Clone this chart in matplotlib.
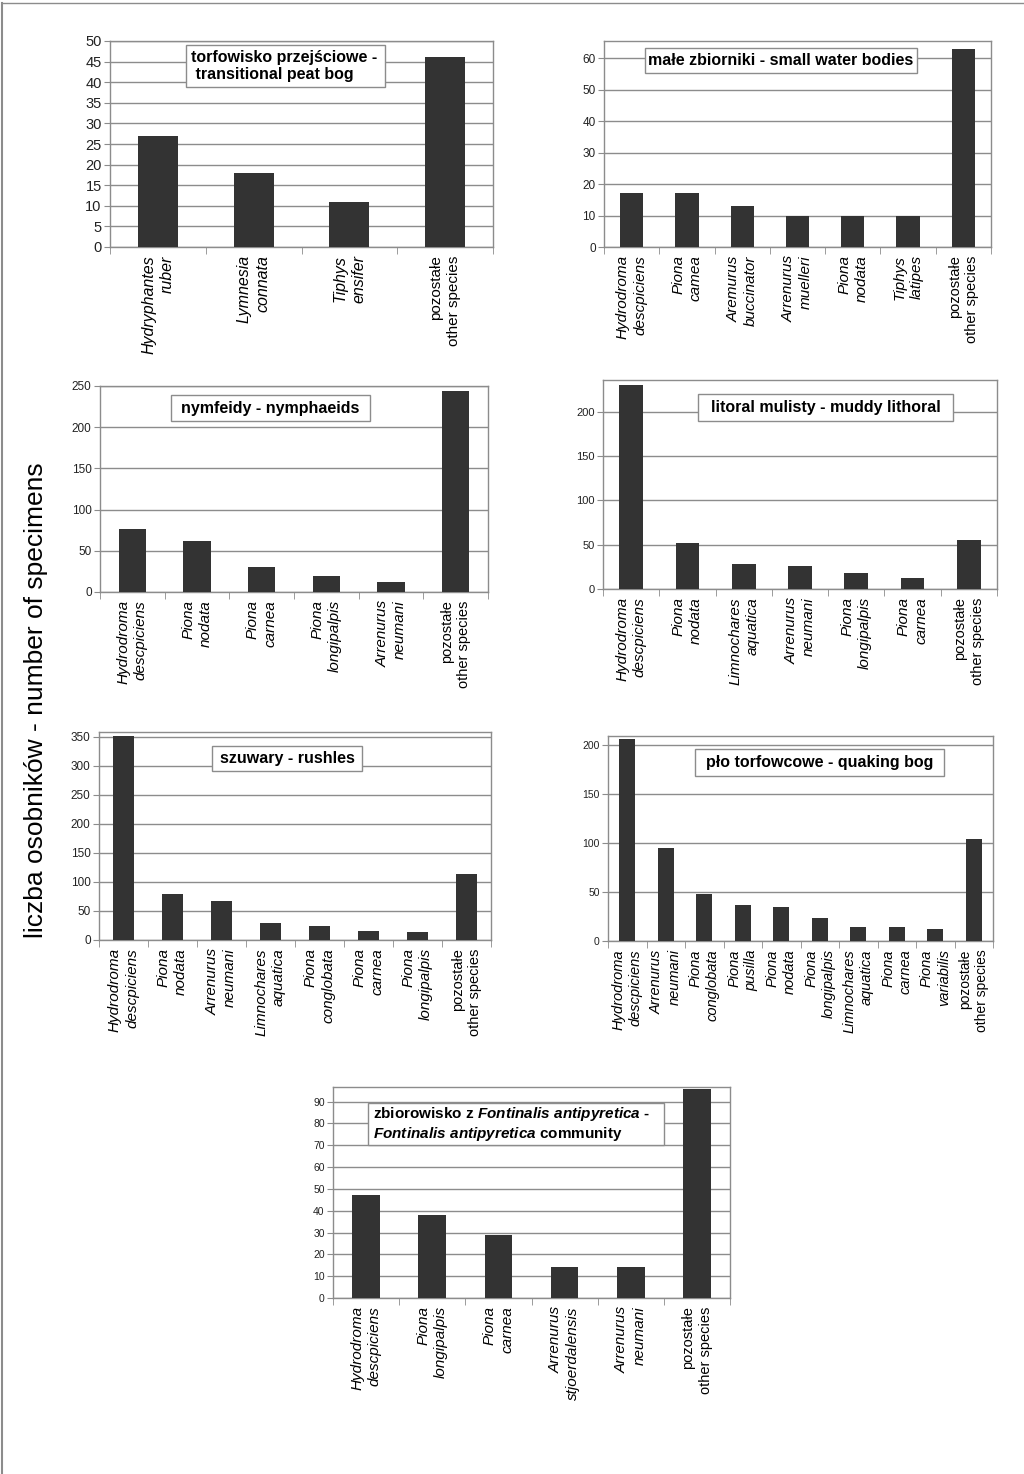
import matplotlib
matplotlib.use("Agg")
import matplotlib.pyplot as plt
from matplotlib.patches import Rectangle
from matplotlib.lines import Line2D
import numpy as np

plt.rcParams["font.family"] = ["Liberation Sans", "DejaVu Sans"]
plt.rcParams["mathtext.fontset"] = "custom"
plt.rcParams["mathtext.it"] = "Liberation Sans:italic:bold"
plt.rcParams["mathtext.rm"] = "Liberation Sans:bold"

OTHER = "pozostałe\nother species"

# --- data -------------------------------------------------------------
peat_labels = ["Hydryphantes\nruber", "Lymnesia\nconnata", "Tiphys\nensifer", OTHER]
peat_values = [27, 18, 11, 46]

small_labels = ["Hydrodroma\ndescpiciens", "Piona\ncamea", "Aremurus\nbuccinator",
                "Arrenurus\nmuelleri", "Piona\nnodata", "Tiphys\nlatipes", OTHER]
small_values = [17, 17, 13, 10, 10, 10, 63]

nymph_labels = ["Hydrodroma\ndescpiciens", "Piona\nnodata", "Piona\ncarnea",
                "Piona\nlongipalpis", "Arrenurus\nneumani", OTHER]
nymph_values = [76, 62, 30, 20, 12, 244]

muddy_labels = ["Hydrodroma\ndescpiciens", "Piona\nnodata", "Limnochares\naquatica",
                "Arrenurus\nneumani", "Piona\nlongipalpis", "Piona\ncarnea", OTHER]
muddy_values = [230, 52, 28, 26, 18, 12, 55]

rush_labels = ["Hydrodroma\ndescpiciens", "Piona\nnodata", "Arrenurus\nneumani",
               "Limnochares\naquatica", "Piona\nconglobata", "Piona\ncarnea",
               "Piona\nlongipalpis", OTHER]
rush_values = [351, 79, 68, 29, 24, 15, 13, 113]

quak_labels = ["Hydrodroma\ndescpiciens", "Arrenurus\nneumani", "Piona\nconglobata",
               "Piona\npusilla", "Piona\nnodata", "Piona\nlongipalpis",
               "Limnochares\naquatica", "Piona\ncarnea", "Piona\nvariabilis", OTHER]
quak_values = [206, 95, 48, 37, 35, 23, 14, 14, 12, 104]

font_labels = ["Hydrodroma\ndescpiciens", "Piona\nlongipalpis", "Piona\ncarnea",
               "Arrenurus\nstjoerdalensis", "Arrenurus\nneumani", OTHER]
font_values = [47, 38, 29, 14, 14, 96]

W, H = 1024, 1474
fig = plt.figure(figsize=(W / 100, H / 100), dpi=100)
GRAY = "#8c8c8c"
BAR = "#333333"


def px_rect(left, top, right, bottom):
    return [left / W, 1 - bottom / H, (right - left) / W, (bottom - top) / H]


def panel(rect, labels, values, ymax, step, ytop, tick_fs, lab_fs=11):
    ax = fig.add_axes(px_rect(*rect))
    x = np.arange(len(values))
    ax.bar(x, values, width=0.42, color=BAR, zorder=3)
    ax.set_xlim(-0.5, len(values) - 0.5)
    ax.set_ylim(0, ytop)
    ax.set_yticks(np.arange(0, ymax + 1, step))
    ax.yaxis.grid(True, color=GRAY, lw=1, zorder=0)
    for s in ax.spines.values():
        s.set_color(GRAY)
        s.set_linewidth(1)
    ax.tick_params(axis="y", direction="out", length=4, color=GRAY,
                   labelsize=tick_fs, pad=2, labelcolor="#222222")
    ax.set_xticks(x)
    ax.set_xticks(np.arange(-0.5, len(values)), minor=True)
    ax.tick_params(axis="x", which="major", length=0, pad=6)
    ax.tick_params(axis="x", which="minor", length=5, color=GRAY)
    ax.set_xticklabels(labels, rotation=90, ha="center", va="top",
                       multialignment="right", fontsize=lab_fs,
                       linespacing=1.3)
    for t, lab in zip(ax.get_xticklabels(), labels):
        if lab != OTHER:
            t.set_style("italic")
        else:
            t.set_fontsize(lab_fs - 0.5)
    return ax


def title_box(box, text, fs=11.5, ha="center"):
    left, top, right, bottom = box
    fig.add_artist(Rectangle((left / W, 1 - bottom / H), (right - left) / W,
                             (bottom - top) / H, transform=fig.transFigure,
                             fc="white", ec=GRAY, lw=1, zorder=5))
    if ha == "center":
        xx = (left + right) / 2 / W
    else:
        xx = (left + 5) / W
    fig.text(xx, 1 - (top + bottom) / 2 / H, text, ha=ha, va="center",
             fontsize=fs, fontweight="bold", zorder=6, linespacing=1.15)


panel((110, 41, 493, 247), peat_labels, peat_values, 50, 5, 50, 10.5, 11.5)
panel((604, 41, 991, 247), small_labels, small_values, 60, 10, 65.4, 8.5)
panel((100, 386, 488, 592), nymph_labels, nymph_values, 250, 50, 250, 8.5)
panel((603, 380, 997, 589), muddy_labels, muddy_values, 200, 50, 235.5, 8)
panel((99, 732, 491, 940), rush_labels, rush_values, 350, 50, 358.5, 8.5)
panel((608, 736, 993, 941), quak_labels, quak_values, 200, 50, 209, 7.5, 10.5)
panel((333, 1087, 730, 1298), font_labels, font_values, 90, 10, 96.7, 7.5)

title_box((186, 45, 385, 87), "torfowisko przejściowe -\n transitional peat bog", ha="left")
title_box((645, 48, 917, 73), "małe zbiorniki - small water bodies")
title_box((171, 395, 370, 421), "nymfeidy - nymphaeids")
title_box((698, 394, 953, 421), "litoral mulisty - muddy lithoral")
title_box((212, 746, 362, 771), "szuwary - rushles")
title_box((695, 749, 944, 776), "pło torfowcowe - quaking bog")
title_box((368, 1103, 664, 1145),
          "zbiorowisko z $Fontinalis\\ antipyretica$ -\n"
          "$Fontinalis\\ antipyretica$ community", fs=11, ha="left")

fig.text(36 / W, 1 - 700 / H, "liczba osobników - number of specimens",
         rotation=90, ha="center", va="center", fontsize=19)

# thin frame lines at the image edges
fig.add_artist(Line2D([2 / W, 2 / W], [0, 1 - 3 / H], color=GRAY, lw=1.5,
                      transform=fig.transFigure))
fig.add_artist(Line2D([2 / W, 1], [1 - 3 / H, 1 - 3 / H], color=GRAY, lw=1,
                      transform=fig.transFigure))

fig.savefig("out.png", dpi=100)
